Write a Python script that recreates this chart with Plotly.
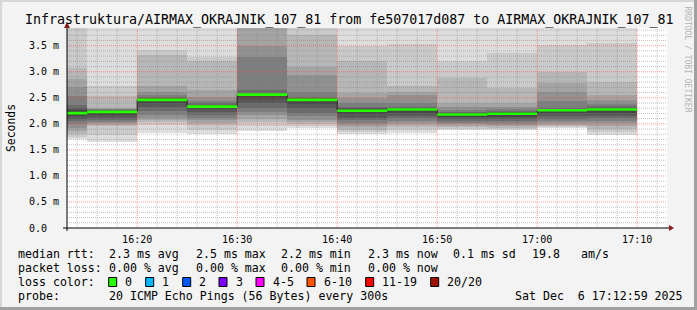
import plotly.graph_objects as go
from datetime import datetime, timedelta

# ---------------- data ----------------
day = (2025, 12, 6)
bin_end = ["16:15", "16:20", "16:25", "16:30", "16:35", "16:40",
           "16:45", "16:50", "16:55", "17:00", "17:05", "17:10"]
median_ms = [2.206, 2.23, 2.46, 2.33, 2.56, 2.46, 2.25, 2.275, 2.18, 2.195, 2.26, 2.275]

# 20 sorted ping round-trip times (ms) per 5-minute step
p1615 = [1.70, 1.75, 1.80, 1.86, 1.92, 1.99, 2.05, 2.10, 2.15, 2.19, 2.23, 2.26, 2.30, 2.36, 2.53, 2.70, 2.86, 3.07, 4.00, 4.50]
p1620 = [1.66, 1.79, 1.95, 1.98, 2.01, 2.04, 2.08, 2.12, 2.17, 2.22, 2.24, 2.25, 2.26, 2.27, 2.28, 2.29, 2.31, 2.54, 2.73, 4.50]
p1625 = [1.83, 1.98, 2.03, 2.07, 2.11, 2.17, 2.25, 2.33, 2.40, 2.45, 2.47, 2.48, 2.49, 2.51, 2.55, 2.62, 2.72, 3.33, 3.42, 4.50]
p1630 = [1.81, 1.88, 1.97, 2.02, 2.07, 2.12, 2.17, 2.22, 2.28, 2.32, 2.34, 2.35, 2.37, 2.40, 2.44, 2.52, 2.65, 3.20, 3.29, 4.50]
p1635 = [1.87, 1.95, 2.04, 2.10, 2.17, 2.22, 2.30, 2.40, 2.48, 2.55, 2.57, 2.58, 2.60, 2.65, 3.29, 3.49, 3.95, 4.20, 4.50, 4.80]
p1640 = [1.92, 1.96, 1.99, 2.03, 2.08, 2.15, 2.21, 2.30, 2.38, 2.45, 2.47, 2.48, 2.49, 2.52, 2.62, 2.94, 3.10, 3.71, 4.20, 4.60]
p1645 = [1.80, 1.84, 1.89, 1.93, 1.98, 2.02, 2.07, 2.12, 2.18, 2.23, 2.26, 2.28, 2.30, 2.33, 2.40, 2.50, 2.59, 3.20, 3.49, 4.50]
p1650 = [1.83, 1.88, 1.93, 1.98, 2.02, 2.06, 2.11, 2.16, 2.21, 2.26, 2.29, 2.30, 2.31, 2.33, 2.40, 2.55, 2.62, 2.73, 3.53, 4.50]
p1655 = [1.88, 1.90, 1.93, 1.96, 1.99, 2.02, 2.05, 2.09, 2.13, 2.17, 2.19, 2.20, 2.21, 2.23, 2.27, 2.33, 2.40, 2.88, 3.20, 4.50]
p1700 = [1.88, 1.90, 1.92, 1.95, 1.98, 2.02, 2.06, 2.10, 2.14, 2.18, 2.21, 2.22, 2.23, 2.25, 2.28, 2.33, 2.40, 2.69, 3.36, 4.50]
p1705 = [1.92, 1.94, 1.96, 1.98, 2.02, 2.06, 2.10, 2.15, 2.20, 2.25, 2.27, 2.28, 2.29, 2.31, 2.43, 2.62, 2.79, 3.00, 3.52, 4.50]
p1710 = [1.79, 1.85, 1.90, 1.96, 2.01, 2.06, 2.11, 2.16, 2.21, 2.26, 2.29, 2.30, 2.31, 2.34, 2.38, 2.45, 2.56, 2.81, 3.55, 4.50]
smoke = [p1615, p1620, p1625, p1630, p1635, p1640, p1645, p1650, p1655, p1700, p1705, p1710]

y_ticks = [0.0, 0.5, 1.0, 1.5, 2.0, 2.5, 3.0, 3.5]
y_ticktext = ["0.0\u00a0\u00a0", "0.5 m", "1.0 m", "1.5 m", "2.0 m", "2.5 m", "3.0 m", "3.5 m"]
x_ticktext = ["16:20", "16:30", "16:40", "16:50", "17:00", "17:10"]

title = "Infrastruktura/AIRMAX_OKRAJNIK_107_81 from fe507017d087 to AIRMAX_OKRAJNIK_107_81"
loss_labels = ["0", "1", "2", "3", "4-5", "6-10", "11-19", "20/20"]
loss_colors = ["#26ff00", "#00b8ff", "#0059ff", "#7e00ff", "#ff00ff", "#ff5500", "#ff0000", "#a01000"]
rtt_stats = ["2.3 ms avg", "2.5 ms max", "2.2 ms min", "2.3 ms now", "0.1 ms sd", "19.8", "am/s"]
loss_stats = ["0.00 % avg", "0.00 % max", "0.00 % min", "0.00 % now"]
probe_text = "20 ICMP Echo Pings (56 Bytes) every 300s"
stamp_text = "Sat Dec\u00a0\u00a06 17:12:59 2025"

# ---------------- geometry ----------------
W, H = 697, 310
L, R, T, B = 67, 667, 28, 228          # plot area in pixels
STEP = timedelta(minutes=5)
x0 = datetime(*day, 16, 12, 59)
x1 = datetime(*day, 17, 12, 59)
y_max = 3.84


def t(hm):
    h, m = hm.split(":")
    return datetime(*day, int(h), int(m))


def px(x):
    return (x - L) / (R - L)


def py(y):
    return (B - y) / (B - T)


ends = [t(s) for s in bin_end]
centers = [e - STEP / 2 for e in ends]
starts = [e - STEP for e in ends]
width_ms = STEP.total_seconds() * 1000

fig = go.Figure()

# smoke bands: pair (i, 21-i), lighter outside, darker inside
half = 10
for i in range(1, half + 1):
    c = int(190 / half * (half - i)) + 50
    col = "#%02x%02x%02x" % (c, c, c)
    lo = [p[i - 1] for p in smoke]
    hi = [p[20 - i] for p in smoke]
    fig.add_trace(go.Bar(x=centers, y=[h - l for h, l in zip(hi, lo)], base=lo,
                         width=width_ms, marker=dict(color=col, line=dict(width=0)),
                         hoverinfo="skip", showlegend=False))

# grid (drawn above smoke like rrdtool)
majors = [t(s) for s in x_ticktext]
gx, gy = [], []
m = x0.replace(second=0) + timedelta(minutes=1)
while m <= x1:
    if m.minute % 2 == 0 and m.minute % 10 != 0:
        gx += [m, m, None]
        gy += [0, y_max, None]
    m += timedelta(minutes=1)
k = 1
while k / 10 <= y_max:
    if k % 5 != 0:
        gx += [x0, x1, None]
        gy += [k / 10, k / 10, None]
    k += 1
fig.add_trace(go.Scatter(x=gx, y=gy, mode="lines", line=dict(color="rgba(120,120,120,0.45)", width=1, dash="1px,1px"),
                         hoverinfo="skip", showlegend=False))
Mx, My = [], []
for mj in majors:
    Mx += [mj, mj, None]
    My += [0, y_max, None]
for v in y_ticks[1:]:
    Mx += [x0, x1, None]
    My += [v, v, None]
fig.add_trace(go.Scatter(x=Mx, y=My, mode="lines", line=dict(color="rgba(255,70,70,0.55)", width=1, dash="1px,1px"),
                         hoverinfo="skip", showlegend=False))

# median: dark step line + green band (loss 0)
fig.add_trace(go.Scatter(x=starts + [ends[-1]], y=median_ms + [median_ms[-1]], mode="lines",
                         line=dict(color="#202020", width=1, shape="hv"), hoverinfo="skip", showlegend=False))
mx, my = [], []
for s0, e0, v in zip(starts, ends, median_ms):
    mx += [s0, e0, None]
    my += [v, v, None]
fig.add_trace(go.Scatter(x=mx, y=my, mode="lines", line=dict(color=loss_colors[0], width=2.6),
                         hoverinfo="skip", showlegend=False))

MONO = "DejaVu Sans Mono"
shapes = []
annotations = []

# frame of canvas
shapes.append(dict(type="rect", xref="paper", yref="paper", x0=px(0), x1=px(W), y0=py(0), y1=py(2),
                   fillcolor="#d6d6d6", line=dict(width=0), layer="below"))
shapes.append(dict(type="rect", xref="paper", yref="paper", x0=px(0), x1=px(2), y0=py(0), y1=py(H),
                   fillcolor="#d6d6d6", line=dict(width=0), layer="below"))
shapes.append(dict(type="rect", xref="paper", yref="paper", x0=px(W - 3), x1=px(W), y0=py(0), y1=py(H),
                   fillcolor="#a0a0a0", line=dict(width=0), layer="below"))
shapes.append(dict(type="rect", xref="paper", yref="paper", x0=px(0), x1=px(W), y0=py(H - 3), y1=py(H),
                   fillcolor="#a0a0a0", line=dict(width=0), layer="below"))

# axes with arrows
shapes.append(dict(type="line", xref="paper", yref="paper", x0=px(63), x1=px(670), y0=0, y1=0,
                   line=dict(color="#000000", width=1)))
shapes.append(dict(type="line", xref="paper", yref="paper", x0=0, x1=0, y0=py(231), y1=py(25),
                   line=dict(color="#000000", width=1)))
shapes.append(dict(type="path", xref="paper", yref="paper",
                   path=f"M {px(669)} {py(225)} L {px(674)} {py(228)} L {px(669)} {py(231)} Z",
                   fillcolor="#8b1a1a", line=dict(width=0)))
shapes.append(dict(type="path", xref="paper", yref="paper",
                   path=f"M {px(64)} {py(28)} L {px(67)} {py(22)} L {px(70)} {py(28)} Z",
                   fillcolor="#8b1a1a", line=dict(width=0)))

# title
annotations.append(dict(text=title, xref="paper", yref="paper", x=px(W / 2), y=py(20),
                        xanchor="center", yanchor="middle", showarrow=False,
                        font=dict(family=MONO, size=13.3, color="#000000")))
# y axis title
annotations.append(dict(text="Seconds", xref="paper", yref="paper", x=px(11), y=py(128), textangle=-90,
                        xanchor="center", yanchor="middle", showarrow=False,
                        font=dict(family=MONO, size=11.4, color="#000000")))
# watermark
annotations.append(dict(text="RRDTOOL / TOBI OETIKER", xref="paper", yref="paper", x=px(687.5), y=py(59),
                        textangle=90, xanchor="center", yanchor="middle", showarrow=False,
                        font=dict(family=MONO, size=8, color="#b4b4b4")))

LEG = 11.6


def txt(s, x, y):
    annotations.append(dict(text=s, xref="paper", yref="paper", x=px(x), y=py(y), xanchor="left",
                            yanchor="middle", showarrow=False, font=dict(family=MONO, size=LEG, color="#000000")))


rows = [254, 268, 282, 296]
txt("median rtt:", 16, rows[0])
for s, x in zip(rtt_stats, [107.3, 193.7, 279.3, 365.7, 451, 530, 579.3]):
    txt(s, x, rows[0])
txt("packet loss:", 16, rows[1])
for s, x in zip(loss_stats, [107.3, 193.7, 279.3, 365.7]):
    txt(s, x, rows[1])
txt("loss color:", 16, rows[2])
box_x = [108.7, 145.7, 182.7, 219, 256, 307, 365.7, 430.7]
for lab, col, bx in zip(loss_labels, loss_colors, box_x):
    shapes.append(dict(type="rect", xref="paper", yref="paper", x0=px(bx), x1=px(bx + 8),
                       y0=py(rows[2] - 4.5), y1=py(rows[2] + 4.5), fillcolor=col,
                       line=dict(color="#000000", width=1)))
    txt(lab, bx + 14.7, rows[2])
txt("probe:", 16, rows[3])
txt(probe_text, 107.3, rows[3])
txt(stamp_text, 513.3, rows[3])

fig.update_layout(
    width=W, height=H, autosize=False,
    margin=dict(l=L, r=W - R, t=T, b=H - B, pad=0),
    paper_bgcolor="#f3f3f3", plot_bgcolor="#ffffff",
    barmode="overlay", bargap=0, showlegend=False,
    shapes=shapes, annotations=annotations,
    xaxis=dict(type="date", range=[x0, x1], tickvals=majors, ticktext=x_ticktext,
               showgrid=False, zeroline=False, showline=False, ticks="",
               ticklabelstandoff=4, tickfont=dict(family=MONO, size=10, color="#000000"), fixedrange=True),
    yaxis=dict(range=[0, y_max], tickvals=y_ticks, ticktext=y_ticktext,
               showgrid=False, zeroline=False, showline=False, ticks="",
               ticklabelstandoff=7, tickfont=dict(family=MONO, size=10, color="#000000"), fixedrange=True),
)

fig.write_html("out.html", config={"displayModeBar": False})
